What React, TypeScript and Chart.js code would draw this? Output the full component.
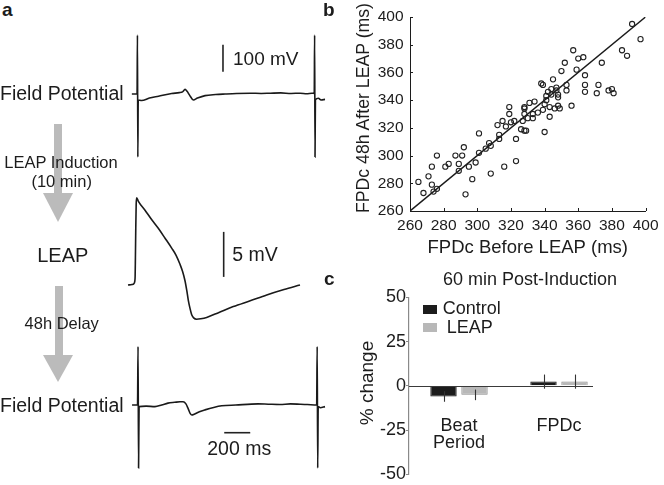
import React, { useEffect, useRef } from "react";
import { Chart, registerables } from "chart.js";

Chart.register(...registerables);
Chart.defaults.font.family = "'Liberation Sans', Arial, Helvetica, sans-serif";
Chart.defaults.color = "#1c1c1c";

// ---------------- Panel a: traces (time in ms, potential in mV) ----------------
const FP1_T = [-45, -5, -2, 1, 4, 30, 90, 160, 261, 320, 345, 364, 380, 400, 428, 460, 518, 600, 672, 760, 864, 950, 1020, 1100, 1180, 1250, 1300, 1340, 1358, 1361, 1364, 1367, 1390, 1410, 1441];
const FP1_V = [0, 0, 218, -233, -22, -24, -15, -8, 2, 5, 8, 17, 10, -5, -22, -15, -6, -2, 0, 2, 3, 2, 3, 4, 2, 3, 1, 3, 2, 218, -233, -22, -16, -22, -20];

const AP_T = [0, 30, 45, 52, 55, 57, 60, 63, 67, 80, 131, 180, 233, 285, 336, 370, 400, 420, 438, 452, 464, 477, 490, 505, 528, 560, 605, 700, 810, 940, 1067, 1200, 1323];
const AP_V = [0, 0.05, 0.15, 0.4, 1.0, 3.0, 6.5, 9.0, 9.7, 9.3, 8.3, 7.3, 6.3, 5.2, 4.1, 3.3, 2.3, 1.5, 0.5, -0.6, -1.7, -2.6, -3.3, -3.65, -3.8, -3.75, -3.6, -3.05, -2.4, -1.75, -1.1, -0.5, 0];

const FP2_T = [-48, -6, -2, 2, 6, 60, 128, 180, 228, 280, 321, 345, 365, 385, 400, 412, 430, 470, 513, 580, 642, 750, 921, 1000, 1090, 1170, 1244, 1300, 1372, 1376, 1380, 1384, 1400, 1436];
const FP2_V = [0, 0, 216, -233, -6, -4, -6, 0, 7, 10, 12, 12, 5, -15, -32, -37, -34, -25, -18, -9, -3, 0, 4, 3, 2, 4, 3, 2, 0, 216, -233, -6, -10, -6];

const BAR_100MV_T = [656, 656];
const BAR_100MV_V = [82.5, 182.5];
const BAR_5MV_T = [736, 736];
const BAR_5MV_V = [0.9, 5.9];
const BAR_200MS_T = [661, 861];
const BAR_200MS_V = [-102.5, -102.5];

// ---------------- Panel b: scatter ----------------
const FPD_BEFORE = [265, 268, 271, 273, 273, 274, 276, 276, 281, 283, 287, 289, 289, 291, 292, 293, 295, 297, 299, 301, 301, 305, 307, 308, 308, 312, 313, 313, 315, 316, 317, 319, 319, 320, 322, 323, 323, 326, 327, 328, 328, 328, 328, 329, 330, 331, 333, 333, 334, 336, 338, 339, 339, 340, 340, 341, 341, 342, 343, 343, 344, 344, 345, 346, 347, 347, 348, 348, 348, 349, 350, 352, 353, 353, 356, 357, 359, 360, 363, 364, 364, 364, 371, 372, 374, 378, 380, 381, 386, 389, 392, 397];
const FPD_AFTER = [281, 273, 285, 292, 279, 274, 276, 300, 292, 294, 300, 294, 289, 300, 306, 272, 292, 283, 295, 302, 316, 305, 309, 307, 287, 322, 312, 315, 325, 292, 321, 335, 330, 324, 325, 312, 296, 319, 325, 334, 335, 318, 330, 318, 327, 338, 327, 330, 339, 331, 352, 351, 333, 337, 317, 340, 343, 346, 328, 335, 348, 344, 355, 334, 347, 349, 344, 342, 336, 334, 361, 367, 351, 347, 336, 376, 362, 370, 371, 358, 351, 346, 345, 351, 367, 347, 348, 345, 376, 372, 395, 384];
const IDENTITY = [260, 400];
const B_MIN = 260;
const B_MAX = 400;
const B_STEP = 20;

// ---------------- Panel c: bars ----------------
const C_CATEGORIES = [["Beat", "Period"], "FPDc"];
const C_CONTROL = [-6.0, 2.4];
const C_CONTROL_ERR = [3, 4];
const C_LEAP = [-5.1, 2.4];
const C_LEAP_ERR = [3, 4];
const C_MIN = -50;
const C_MAX = 50;
const C_STEP = 25;

const FONT = "'Liberation Sans', Arial, Helvetica, sans-serif";
const INK = "#1c1c1c";

function baseOpts(extra: any) {
  return {
    responsive: false,
    maintainAspectRatio: false,
    animation: false,
    devicePixelRatio: 1,
    events: [],
    plugins: { legend: { display: false }, tooltip: { enabled: false }, title: { display: false } },
    ...extra,
  };
}

function ChartCanvas({ left, top, width, height, config }: any) {
  const ref = useRef<HTMLCanvasElement>(null);
  useEffect(() => {
    const chart = new Chart(ref.current as HTMLCanvasElement, config());
    return () => chart.destroy();
  }, []);
  return (
    <canvas
      ref={ref}
      width={width}
      height={height}
      style={{ position: "absolute", left, top, width, height }}
    />
  );
}

function traceConfig(series: any[], xr: number[], yr: number[]) {
  return () => ({
    type: "scatter",
    data: {
      datasets: series.map((s) => ({
        data: s.t.map((t: number, i: number) => ({ x: t, y: s.v[i] })),
        showLine: true,
        borderColor: s.color,
        borderWidth: s.w,
        pointRadius: 0,
        tension: 0,
        cubicInterpolationMode: s.smooth ? "monotone" : "default",
        clip: false,
      })),
    },
    options: baseOpts({
      layout: { padding: 0, autoPadding: false },
      scales: {
        x: { type: "linear", display: false, min: xr[0], max: xr[1] },
        y: { type: "linear", display: false, min: yr[0], max: yr[1] },
      },
    }),
  });
}

const inwardTicks = {
  id: "inwardTicks",
  afterDraw(chart: any) {
    const { ctx } = chart;
    const xs = chart.scales.x;
    const ys = chart.scales.y;
    ctx.save();
    ctx.strokeStyle = INK;
    ctx.lineWidth = 1;
    ctx.beginPath();
    xs.ticks.forEach((t: any) => {
      const px = Math.round(xs.getPixelForValue(t.value)) + 0.5;
      ctx.moveTo(px, ys.bottom);
      ctx.lineTo(px, ys.bottom - 3);
    });
    ys.ticks.forEach((t: any) => {
      const py = Math.round(ys.getPixelForValue(t.value)) + 0.5;
      ctx.moveTo(xs.left, py);
      ctx.lineTo(xs.left + 3, py);
    });
    ctx.stroke();
    ctx.restore();
  },
};

const scatterConfig = () => ({
  type: "scatter",
  data: {
    datasets: [
      {
        data: FPD_BEFORE.map((x, i) => ({ x, y: FPD_AFTER[i] })),
        pointRadius: 2.6,
        pointBorderWidth: 1.1,
        pointBorderColor: "#222",
        pointBackgroundColor: "rgba(0,0,0,0)",
      },
      {
        data: IDENTITY.map((v) => ({ x: v, y: v })),
        showLine: true,
        pointRadius: 0,
        borderColor: "#1a1a1a",
        borderWidth: 1.5,
      },
    ],
  },
  options: baseOpts({
    layout: { padding: { top: 17, right: 11, left: 0, bottom: 0 }, autoPadding: false },
    scales: {
      x: {
        type: "linear",
        min: B_MIN,
        max: B_MAX,
        ticks: { stepSize: B_STEP, font: { size: 15.5 }, color: INK, padding: 5.5, maxRotation: 0, autoSkip: false },
        grid: { display: true, drawOnChartArea: false, drawTicks: false },
        border: { display: true, color: INK, width: 1 },
        title: {
          display: true,
          text: "FPDc Before LEAP (ms)",
          font: { size: 18.5 },
          color: INK,
          padding: { top: 0, bottom: 3 },
        },
        afterFit: (s: any) => {
          s.height = 51;
        },
      },
      y: {
        type: "linear",
        min: B_MIN,
        max: B_MAX,
        ticks: { stepSize: B_STEP, font: { size: 15.5 }, color: INK, padding: 6.5, autoSkip: false },
        grid: { display: true, drawOnChartArea: false, drawTicks: false },
        border: { display: true, color: INK, width: 1 },
        afterFit: (s: any) => {
          s.width = 80;
        },
      },
    },
  }),
  plugins: [inwardTicks],
});

const barExtras = {
  id: "barExtras",
  afterDatasetsDraw(chart: any) {
    const { ctx, chartArea } = chart;
    const ys = chart.scales.y;
    const errs = [C_CONTROL_ERR, C_LEAP_ERR];
    ctx.save();
    const y0 = Math.round(ys.getPixelForValue(0)) + 0.5;
    ctx.strokeStyle = "#3a3a3a";
    ctx.lineWidth = 1.2;
    ctx.beginPath();
    ctx.moveTo(chartArea.left, y0);
    ctx.lineTo(chartArea.right - 16, y0);
    ctx.stroke();
    ctx.strokeStyle = "#333";
    ctx.lineWidth = 1.1;
    chart.data.datasets.forEach((ds: any, i: number) => {
      const meta = chart.getDatasetMeta(i);
      meta.data.forEach((bar: any, j: number) => {
        const v = ds.data[j];
        const e = errs[i][j];
        const x = Math.round(bar.x) + 0.5;
        ctx.beginPath();
        ctx.moveTo(x, ys.getPixelForValue(v + e));
        ctx.lineTo(x, ys.getPixelForValue(v - e));
        ctx.stroke();
      });
    });
    ctx.restore();
  },
};

const barConfig = () => ({
  type: "bar",
  data: {
    labels: C_CATEGORIES,
    datasets: [
      {
        label: "Control",
        data: C_CONTROL,
        backgroundColor: "#1c1c1c",
        borderColor: "#111",
        borderWidth: 1,
        barPercentage: 0.85,
        categoryPercentage: 0.62,
      },
      {
        label: "LEAP",
        data: C_LEAP,
        backgroundColor: "#b8b8b8",
        borderColor: "#8a8a8a",
        borderWidth: 1,
        barPercentage: 0.85,
        categoryPercentage: 0.62,
      },
    ],
  },
  options: baseOpts({
    layout: { padding: { top: 35.5, bottom: 6.5, left: 0, right: 55 }, autoPadding: false },
    scales: {
      x: {
        type: "category",
        position: { y: 0 },
        grid: { display: false },
        border: { display: false },
        ticks: { font: { size: 18, lineHeight: 0.95 }, color: INK, padding: 24, maxRotation: 0, autoSkip: false },
      },
      y: {
        min: C_MIN,
        max: C_MAX,
        ticks: { stepSize: C_STEP, font: { size: 18 }, color: INK, padding: 0 },
        grid: { display: true, drawOnChartArea: false, drawTicks: true, tickLength: 3, color: "#888" },
        border: { display: true, color: "#8a8a8a", width: 1.2 },
        afterFit: (s: any) => {
          s.width = 79;
        },
      },
    },
  }),
  plugins: [barExtras],
});

// ---------------- HTML text helpers ----------------
function Txt({ x, y, size, align = "left", bold = false, children }: any) {
  const tx = align === "center" ? "translateX(-50%)" : align === "right" ? "translateX(-100%)" : "none";
  return (
    <div
      style={{
        position: "absolute",
        left: x,
        top: y - 0.488 * size,
        fontSize: size,
        lineHeight: 1,
        fontFamily: FONT,
        fontWeight: bold ? 700 : 400,
        color: INK,
        whiteSpace: "pre",
        transform: tx,
      }}
    >
      {children}
    </div>
  );
}

function VTxt({ x, y, size, children }: any) {
  return (
    <div
      style={{
        position: "absolute",
        left: x,
        top: y,
        fontSize: size,
        lineHeight: 1,
        fontFamily: FONT,
        color: INK,
        whiteSpace: "pre",
        transform: "translate(-50%, -50%) rotate(-90deg)",
      }}
    >
      {children}
    </div>
  );
}

function Arrow({ cx, top, headTop, headH, headW, shaftW }: any) {
  const col = "#bbbbbb";
  return (
    <>
      <div
        style={{
          position: "absolute",
          left: cx - shaftW / 2,
          top,
          width: shaftW,
          height: headTop - top + 1,
          background: col,
        }}
      />
      <div
        style={{
          position: "absolute",
          left: cx - headW / 2,
          top: headTop,
          width: 0,
          height: 0,
          borderLeft: `${headW / 2}px solid transparent`,
          borderRight: `${headW / 2}px solid transparent`,
          borderTop: `${headH}px solid ${col}`,
        }}
      />
    </>
  );
}

function Swatch({ x, y, w, h, color }: any) {
  return <div style={{ position: "absolute", left: x, top: y, width: w, height: h, background: color }} />;
}

const fp1Cfg = traceConfig(
  [
    { t: FP1_T, v: FP1_V, w: 1.6, color: "#1a1a1a", smooth: true },
    { t: BAR_100MV_T, v: BAR_100MV_V, w: 1.6, color: "#222", smooth: false },
  ],
  [-136.2, 1479.2],
  [-262.7, 255.3]
);
const apCfg = traceConfig(
  [
    { t: AP_T, v: AP_V, w: 1.6, color: "#1a1a1a", smooth: true },
    { t: BAR_5MV_T, v: BAR_5MV_V, w: 1.6, color: "#222", smooth: false },
  ],
  [-61.5, 1553.8],
  [-5, 11.11]
);
const fp2Cfg = traceConfig(
  [
    { t: FP2_T, v: FP2_V, w: 1.6, color: "#1a1a1a", smooth: true },
    { t: BAR_200MS_T, v: BAR_200MS_V, w: 1.6, color: "#222", smooth: false },
  ],
  [-140.8, 1474.6],
  [-259, 259]
);

export default function App() {
  return (
    <div
      style={{
        position: "absolute",
        left: 0,
        top: 0,
        width: 664,
        height: 485,
        background: "#fff",
        overflow: "hidden",
      }}
    >
      <Arrow cx={58} top={124} headTop={193} headH={29} headW={30} shaftW={7.4} />
      <Arrow cx={58.8} top={285.7} headTop={355} headH={27.7} headW={30.7} shaftW={7.6} />

      <ChartCanvas left={120} top={25} width={210} height={140} config={fp1Cfg} />
      <ChartCanvas left={120} top={185} width={210} height={145} config={apCfg} />
      <ChartCanvas left={120} top={335} width={210} height={140} config={fp2Cfg} />
      <ChartCanvas left={330} top={0} width={334} height={262} config={scatterConfig} />
      <ChartCanvas left={330} top={262} width={334} height={223} config={barConfig} />

      <Txt x={2} y={9} size={19} bold>a</Txt>
      <Txt x={323} y={9} size={19} bold>b</Txt>
      <Txt x={324} y={278} size={19} bold>c</Txt>

      <Txt x={0} y={93.7} size={19.5}>Field Potential</Txt>
      <Txt x={61} y={162.3} size={16.5} align="center">LEAP Induction</Txt>
      <Txt x={61.7} y={180.8} size={16.5} align="center">(10 min)</Txt>
      <Txt x={62.8} y={254.5} size={20} align="center">LEAP</Txt>
      <Txt x={61.7} y={322.8} size={16.5} align="center">48h Delay</Txt>
      <Txt x={0} y={405.3} size={19.5}>Field Potential</Txt>
      <Txt x={233} y={58} size={19}>100 mV</Txt>
      <Txt x={232.3} y={254.7} size={19.5}>5 mV</Txt>
      <Txt x={239.2} y={448.3} size={19.5} align="center">200 ms</Txt>

      <VTxt x={364} y={107.5} size={17.7}>FPDc 48h After LEAP (ms)</VTxt>

      <Txt x={530} y={278.6} size={18} align="center">60 min Post-Induction</Txt>
      <VTxt x={366} y={382.5} size={19}>% change</VTxt>
      <Swatch x={423.3} y={304.5} w={13.5} h={9.8} color="#1c1c1c" />
      <Txt x={442.7} y={308} size={18}>Control</Txt>
      <Swatch x={423} y={322.7} w={14} h={9.8} color="#b8b8b8" />
      <Txt x={446.7} y={326.5} size={18}>LEAP</Txt>
    </div>
  );
}
